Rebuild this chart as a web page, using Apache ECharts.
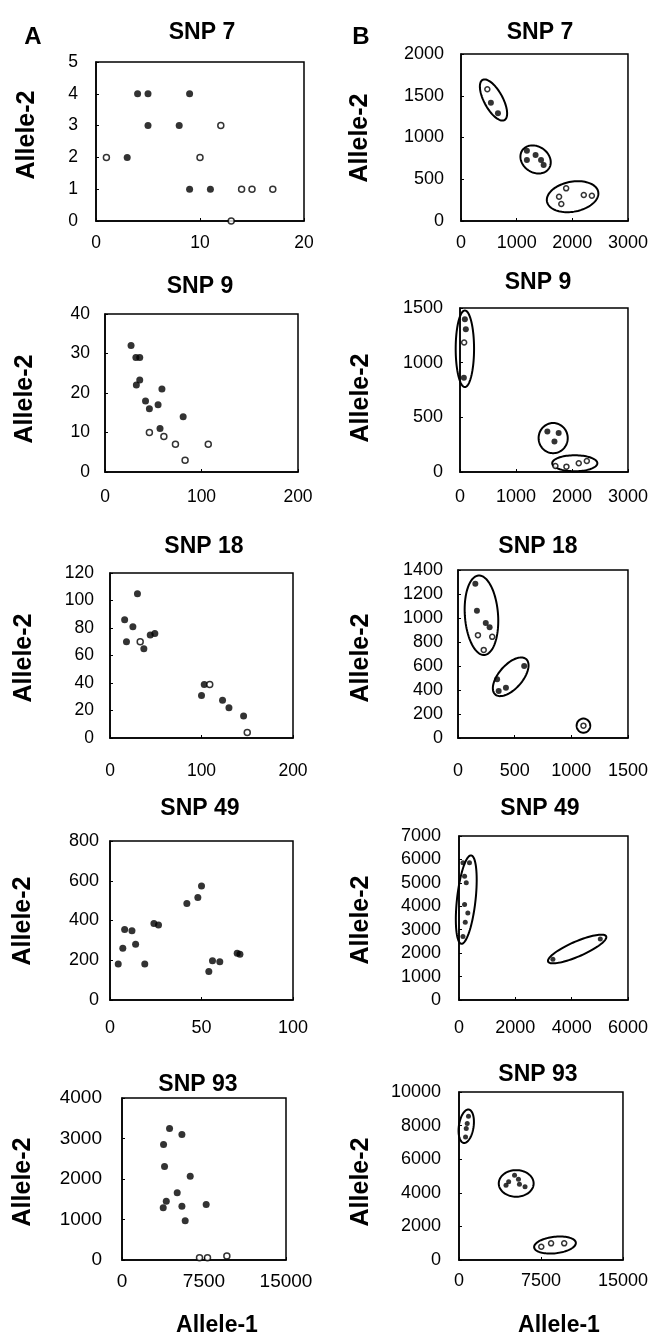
<!DOCTYPE html>
<html>
<head>
<meta charset="utf-8">
<script src="https://cdn.jsdelivr.net/npm/echarts@6/dist/echarts.min.js"></script>
<style>
html,body{margin:0;padding:0;background:#fff;}
#chart{width:651px;height:1340px;}
</style>
</head>
<body>
<div id="chart"></div>
<script>
// ---------- DATA ----------
const panelTitles = ['SNP 7', 'SNP 9', 'SNP 18', 'SNP 49', 'SNP 93'];
const columnLetters = ['A', 'B'];
const yAxisTitle = 'Allele-2';
const xAxisTitle = 'Allele-1';

// axis ranges: [min, max, interval]
const snp7A_xRange = [0, 20, 10];      const snp7A_yRange = [0, 5, 1];
const snp9A_xRange = [0, 200, 100];    const snp9A_yRange = [0, 40, 10];
const snp18A_xRange = [0, 200, 100];   const snp18A_yRange = [0, 120, 20];
const snp49A_xRange = [0, 100, 50];    const snp49A_yRange = [0, 800, 200];
const snp93A_xRange = [0, 15000, 7500];const snp93A_yRange = [0, 4000, 1000];
const snp7B_xRange = [0, 3000, 1000];  const snp7B_yRange = [0, 2000, 500];
const snp9B_xRange = [0, 3000, 1000];  const snp9B_yRange = [0, 1500, 500];
const snp18B_xRange = [0, 1500, 500];  const snp18B_yRange = [0, 1400, 200];
const snp49B_xRange = [0, 6000, 2000]; const snp49B_yRange = [0, 7000, 1000];
const snp93B_xRange = [0, 15000, 7500];const snp93B_yRange = [0, 10000, 2000];

// Column A points [Allele-1, Allele-2]
const snp7A_closed = [[3,2],[4,4],[5,4],[5,3],[8,3],[9,4],[9,1],[11,1]];
const snp7A_open = [[1,2],[10,2],[12,3],[14,1],[15,1],[17,1],[13,0]];
const snp9A_closed = [[27,32],[32,29],[36,29],[32.5,22],[36,23.3],[42,18],[46,16],[55,17],[59,21],[81,14],[57,11]];
const snp9A_open = [[46,10],[61,9],[73,7],[83,3],[107,7]];
const snp18A_closed = [[16,86],[18,70],[25,81],[30,105],[37,65],[44,75],[49,76],[100,31],[103,39],[123,27.5],[130,22],[146,16]];
const snp18A_open = [[33,70],[109,39],[150,4]];
const snp49A_closed = [[4.5,181],[7,260],[8,355],[12,348],[14,280],[19,181],[24,385],[26.5,377],[42,486],[48,516],[50,573],[54,144],[56,197],[60,192],[69.5,235],[71,230]];
const snp49A_open = [];
const snp93A_closed = [[4350,3250],[5480,3100],[3800,2850],[3890,2310],[6240,2070],[5050,1660],[4050,1450],[3770,1290],[5480,1325],[7700,1370],[5780,970]];
const snp93A_open = [[7090,57],[7820,57],[9590,99]];

// Column B points
const snp7B_closed = [[537,1417],[664,1290],[1184,842],[1340,790],[1184,730],[1438,730],[1485,670]];
const snp7B_open = [[473,1577],[1889,391],[1762,291],[1802,204],[2206,311],[2351,303]];
const snp9B_closed = [[87,1398],[104,1306],[69,862],[1560,371],[1687,279],[1762,356]];
const snp9B_open = [[74,1184],[1704,55],[1901,49],[2121,80],[2265,101]];
const snp18B_closed = [[153,1285],[167,1061],[245,958],[279,922],[345,489],[359,391],[423,419],[584,600]];
const snp18B_open = [[176,857],[302,843],[227,734],[1107,103]];
const snp49B_closed = [[140,5857],[372,5857],[198,5286],[258,5000],[198,4071],[314,3714],[222,3314],[140,2714],[3334,1743],[5017,2600]];
const snp49B_open = [];
const snp93B_closed = [[869,8556],[753,8122],[663,7825],[600,7326],[4543,4652],[4301,4456],[5081,5050],[5439,4813],[5529,4516],[6040,4355]];
const snp93B_open = [[7527,790],[8423,992],[9624,992]];

// Genotype cluster outlines: [centerX, centerY, axis1EndX, axis1EndY, axis2EndX, axis2EndY] (data units)
const snp7B_clusters = [[584,1449,386,1689,728,1505],[1340,737,1588,638,1227,601],[2005,291,2466,347,2050,114]];
const snp9B_clusters = [[87,1127,87,1477,251,1127],[1664,310,1924,310,1664,448],[2050,80,2453,80,2050,153]];
const snp18B_clusters = [[207,1023,181,1354,353,1034],[465,510,603,656,541,442],[1107,103,1167,103,1107,162]];
const snp49B_clusters = [[258,4286,432,6172,585,4239],[4195,2177,5226,2713,4296,1882]];
const snp93B_clusters = [[663,7962,896,8954,1326,7891],[5233,4557,6828,4557,5233,5348],[8781,891,10690,1010,8781,1384]];

// ---------- LAYOUT ----------
const FONT = "'Liberation Sans', Arial, Helvetica, sans-serif";
const panels = [
  {t:0, grid:[96,62,208,159],  xr:snp7A_xRange,  yr:snp7A_yRange,  c:snp7A_closed,  o:snp7A_open,  cl:null, tp:[202,33],  np:[27,135],  xm:13, ym:18, fs:17.5, sz:[7,6]},
  {t:0, grid:[461,54,173,167], xr:snp7B_xRange,  yr:snp7B_yRange,  c:snp7B_closed,  o:snp7B_open,  cl:snp7B_clusters, tp:[540,33], np:[360,138], xm:13, ym:17, fs:18, sz:[6,5]},
  {t:1, grid:[105,314,193,158],xr:snp9A_xRange,  yr:snp9A_yRange,  c:snp9A_closed,  o:snp9A_open,  cl:null, tp:[200,287], np:[25,399],  xm:16, ym:15, fs:17.5, sz:[7,6]},
  {t:1, grid:[460,308,173,164],xr:snp9B_xRange,  yr:snp9B_yRange,  c:snp9B_closed,  o:snp9B_open,  cl:snp9B_clusters, tp:[538,283], np:[361,398], xm:16, ym:17, fs:18, sz:[6,5]},
  {t:2, grid:[110,573,183,165],xr:snp18A_xRange, yr:snp18A_yRange, c:snp18A_closed, o:snp18A_open, cl:null, tp:[204,547], np:[24,658],  xm:24, ym:16, fs:17.5, sz:[7,6]},
  {t:2, grid:[458,570,174,168],xr:snp18B_xRange, yr:snp18B_yRange, c:snp18B_closed, o:snp18B_open, cl:snp18B_clusters, tp:[538,547], np:[361,658], xm:24, ym:15, fs:18, sz:[6,5]},
  {t:3, grid:[110,841,183,159],xr:snp49A_xRange, yr:snp49A_yRange, c:snp49A_closed, o:snp49A_open, cl:null, tp:[200,809], np:[23,921],  xm:19, ym:11, fs:18, sz:[7,6]},
  {t:3, grid:[459,836,174,164],xr:snp49B_xRange, yr:snp49B_yRange, c:snp49B_closed, o:snp49B_open, cl:snp49B_clusters, tp:[540,809], np:[361,920], xm:19, ym:18, fs:18, sz:[5,5]},
  {t:4, grid:[122,1098,164,162],xr:snp93A_xRange,yr:snp93A_yRange, c:snp93A_closed, o:snp93A_open, cl:null, tp:[198,1085], np:[23,1182], xm:12, ym:20, fs:19, sz:[7,6]},
  {t:4, grid:[459,1092,168,168],xr:snp93B_xRange,yr:snp93B_yRange, c:snp93B_closed, o:snp93B_open, cl:snp93B_clusters, tp:[538,1075], np:[361,1182], xm:12, ym:18, fs:18, sz:[5,5]}
];
const letterPos = [[33,37],[361,37]];
const xNamePos = [[217,1326],[559,1326]];

function ellipseRenderer(params, api) {
  const c = api.coord([api.value(0), api.value(1)]);
  const a = api.coord([api.value(2), api.value(3)]);
  const b = api.coord([api.value(4), api.value(5)]);
  const ux = a[0]-c[0], uy = a[1]-c[1], vx = b[0]-c[0], vy = b[1]-c[1];
  const pts = [];
  for (let k = 0; k < 90; k++) {
    const t = k / 90 * Math.PI * 2;
    pts.push([c[0] + ux*Math.cos(t) + vx*Math.sin(t), c[1] + uy*Math.cos(t) + vy*Math.sin(t)]);
  }
  return {type:'polygon', shape:{points:pts}, style:{fill:'none', stroke:'#000', lineWidth:2}};
}

const plainNumber = (v) => String(v);
const grids = [], xAxes = [], yAxes = [], series = [], graphics = [];
panels.forEach((p, i) => {
  grids.push({left:p.grid[0], top:p.grid[1], width:p.grid[2], height:p.grid[3], show:true, borderColor:'#000', borderWidth:1.5, backgroundColor:'rgba(0,0,0,0)', containLabel:false});
  const axisCommon = (m) => ({
    type:'value', splitLine:{show:false},
    axisLine:{show:true, onZero:false, lineStyle:{color:'#000', width:1.5}},
    axisTick:{show:true, inside:true, length:3, lineStyle:{color:'#000', width:1}},
    axisLabel:{color:'#000', fontSize:p.fs, fontFamily:FONT, margin:m, showMinLabel:true, showMaxLabel:true, formatter:plainNumber}
  });
  xAxes.push(Object.assign(axisCommon(p.xm), {gridIndex:i, min:p.xr[0], max:p.xr[1], interval:p.xr[2]}));
  yAxes.push(Object.assign(axisCommon(p.ym), {gridIndex:i, min:p.yr[0], max:p.yr[1], interval:p.yr[2]}));
  if (p.cl) {
    series.push({type:'custom', xAxisIndex:i, yAxisIndex:i, data:p.cl, renderItem:ellipseRenderer, clip:false, silent:true, z:2,
      dimensions:['x','y','ax','ay','bx','by'], encode:{x:0, y:1}});
  }
  series.push({type:'scatter', xAxisIndex:i, yAxisIndex:i, data:p.c, symbol:'circle', symbolSize:p.sz[0],
    itemStyle:{color:'#000'}, silent:true, z:3});
  if (p.o.length) {
    series.push({type:'scatter', xAxisIndex:i, yAxisIndex:i, data:p.o, symbol:'circle', symbolSize:p.sz[1],
      itemStyle:{color:'#fff', borderColor:'#000', borderWidth:1.5}, silent:true, z:4});
  }
  graphics.push({type:'text', x:p.tp[0], y:p.tp[1], style:{text:panelTitles[p.t], font:'bold 23px ' + FONT, fill:'#000', textAlign:'center', textVerticalAlign:'middle'}});
  graphics.push({type:'text', x:p.np[0], y:p.np[1], rotation:Math.PI/2, style:{text:yAxisTitle, font:'bold 25px ' + FONT, fill:'#000', textAlign:'center', textVerticalAlign:'middle'}});
});
columnLetters.forEach((L, j) => {
  graphics.push({type:'text', x:letterPos[j][0], y:letterPos[j][1], style:{text:L, font:'bold 24px ' + FONT, fill:'#000', textAlign:'center', textVerticalAlign:'middle'}});
  graphics.push({type:'text', x:xNamePos[j][0], y:xNamePos[j][1], style:{text:xAxisTitle, font:'bold 23px ' + FONT, fill:'#000', textAlign:'center', textVerticalAlign:'middle'}});
});

const chart = echarts.init(document.getElementById('chart'), null, {renderer:'canvas'});
chart.setOption({
  animation:false,
  backgroundColor:'#fff',
  grid:grids, xAxis:xAxes, yAxis:yAxes, series:series, graphic:graphics
});
</script>
</body>
</html>
